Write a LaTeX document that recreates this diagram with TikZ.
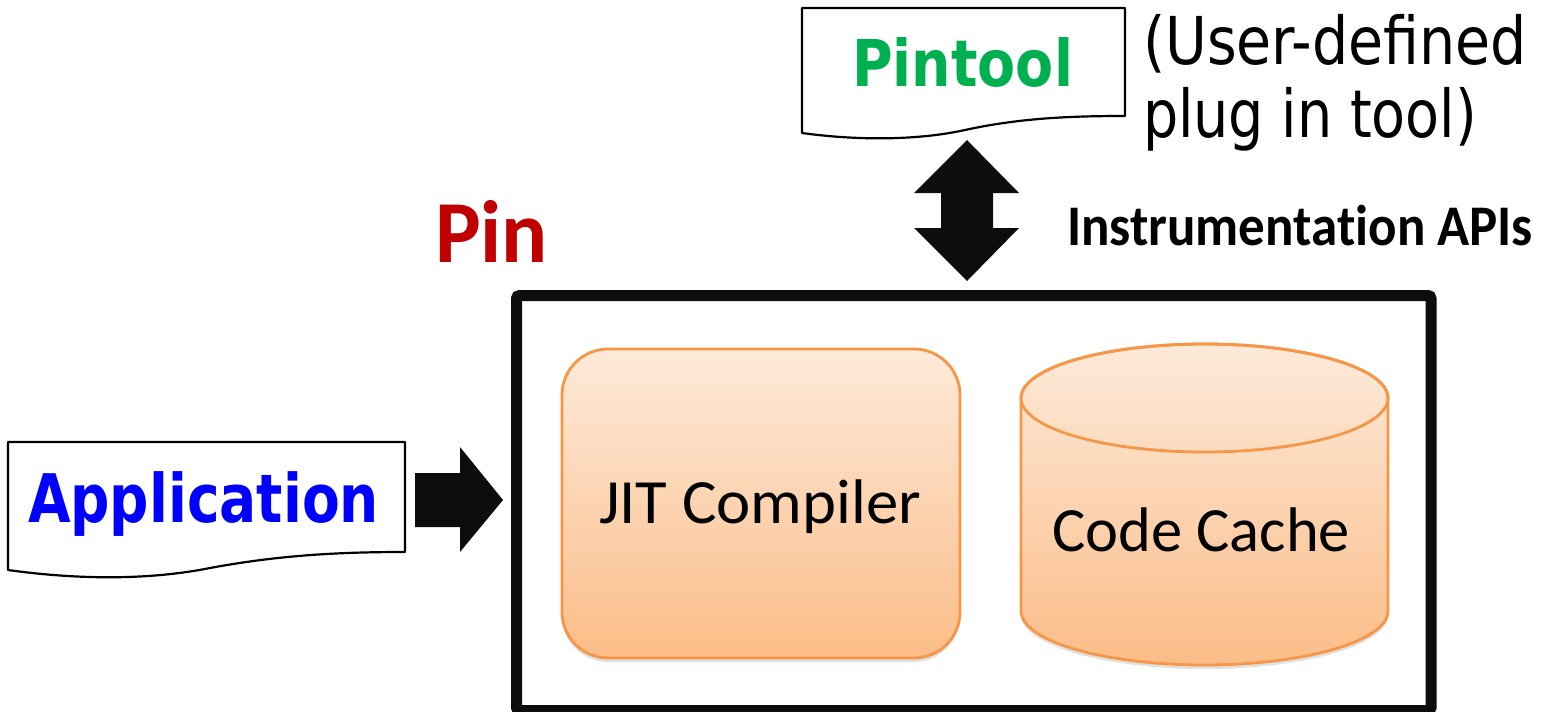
\documentclass[tikz,border=0pt]{standalone}
\usepackage{fontspec}
\usepackage{graphicx}
\setmainfont{Carlito}[Ligatures=CommonOff]
\newfontfamily\tahomalike{DejaVu Sans}
\usetikzlibrary{shadows}
\definecolor{pinred}{HTML}{C00000}
\definecolor{pingreen}{HTML}{00B050}
\definecolor{appblue}{HTML}{0000FF}
\definecolor{orstroke}{HTML}{F79646}
\definecolor{ortop}{HTML}{FDEADA}
\definecolor{orbot}{HTML}{FBBD88}
\definecolor{nearblack}{HTML}{0D0D0D}
\tikzset{
  docshape/.style={draw=black, line width=2.2pt, fill=white, line join=round},
  blockarrow/.style={fill=nearblack, draw=none},
  orangebox/.style={draw=orstroke, line width=2.8pt, top color=ortop, bottom color=orbot,
    drop shadow={shadow xshift=0pt, shadow yshift=-4pt, opacity=0.12, fill=black}},
  txt/.style={inner sep=0pt, outer sep=0pt, anchor=base west}
}
\newcommand{\fitw}[3]{\resizebox{#1pt}{\height}{\fontsize{#2}{#2}\selectfont #3}}
\begin{document}
\begin{tikzpicture}[x=1pt,y=-1pt]
\useasboundingbox (0,0) rectangle (1542,712);
% Pin frame
\draw[nearblack, line width=11pt, rounded corners=3pt] (516.5,295.5) rectangle (1431,710.5);
% Pintool document
\draw[docshape] (802,133) -- (802,8) -- (1125,8) -- (1125,116)
  .. controls (1070,116) and (1020,118) .. (965,130)
  .. controls (920,140) and (860,141) .. (802,133) -- cycle;
\node[txt, text=pingreen] (pintool) at (852,86) {\fitw{221}{64.5}{\tahomalike\bfseries Pintool}};
% Application document
\draw[docshape] (8,570) -- (8,442) -- (405,442) -- (405,552)
  .. controls (340,552) and (280,555) .. (210,568)
  .. controls (150,580) and (80,580) .. (8,570) -- cycle;
\node[txt, text=appblue] (app) at (28,522) {\fitw{351}{67}{\tahomalike\bfseries Application}};
% arrow application -> pin
\fill[blockarrow] (415,473) -- (460,473) -- (460,447) -- (503,500) -- (460,552) -- (460,527) -- (415,527) -- cycle;
% double arrow
\fill[blockarrow] (967,140) -- (1019,193) -- (993,193) -- (993,228) -- (1019,228) -- (967,281)
  -- (914,228) -- (941,228) -- (941,193) -- (914,193) -- cycle;
% labels
\node[txt, text=pinred] (pin) at (435,262) {\fitw{113}{88.5}{\bfseries Pin}};
\node[txt] (apis) at (1067,245) {\fitw{466}{57.5}{\bfseries Instrumentat\kern0pt ion APIs}};
\node[txt] (ud1) at (1143,64) {\fitw{384}{66}{\tahomalike (User-defined}};
\node[txt] (ud2) at (1143,137) {\fitw{334}{66}{\tahomalike plug in tool)}};
% JIT compiler
\draw[orangebox, rounded corners=46pt] (562,349) rectangle (960,658);
\node[txt] (jit) at (599,523) {\fitw{322}{63}{JIT Compiler}};
% Code cache cylinder
\draw[orangebox] (1021,398) -- (1021,611) arc[start angle=180, end angle=0, x radius=183.5, y radius=54]
  -- (1388,398) arc[start angle=0, end angle=-180, x radius=183.5, y radius=54] -- cycle;
\draw[draw=orstroke, line width=2.8pt] (1204.5,398) ellipse[x radius=183.5, y radius=54];
\node[txt] (cache) at (1052,551) {\fitw{298}{63}{Code Cache}};
\end{tikzpicture}
\end{document}
